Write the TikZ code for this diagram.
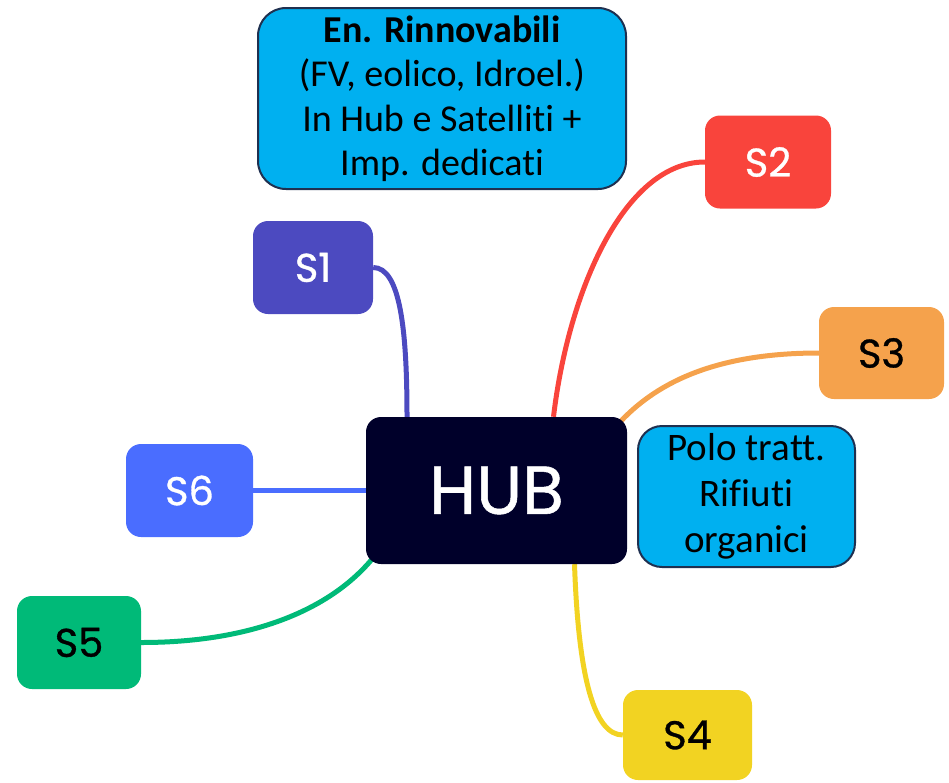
\documentclass[tikz,border=0pt]{standalone}
\usepackage{fontspec}
\setmainfont{Carlito}[Ligatures={NoCommon,NoContextual}]
\newfontfamily\popfont{Poppins}[FakeBold=0.8]
\usetikzlibrary{backgrounds}
\definecolor{renblue}{HTML}{00B0F0}
\definecolor{navyb}{HTML}{1F3050}
\definecolor{hubc}{HTML}{00002A}
\definecolor{cone}{HTML}{4C4AC0}
\definecolor{ctwo}{HTML}{F9443C}
\definecolor{cthree}{HTML}{F5A24C}
\definecolor{cfour}{HTML}{F2D322}
\definecolor{cfive}{HTML}{00BA78}
\definecolor{csix}{HTML}{4A6DFF}
\begin{document}
\begin{tikzpicture}[x=1pt,y=-1pt,
  info/.style={fill=renblue, draw=navyb, line width=2pt, rounded corners=28pt, align=center, inner sep=0pt, font=\fontsize{38}{44.5}\selectfont},
  sat/.style={rounded corners=15pt, inner sep=0pt, font=\popfont\fontsize{40}{48}\selectfont},
  link/.style={line width=5pt}]
\useasboundingbox (0,0) rectangle (949,782);
\node[info, minimum width=368pt, minimum height=181pt] (ren) at (442,98.5)
  {\textbf{En. Rinnovabili}\\(FV, eolico, Idroel.)\\In Hub e Satelliti +\\Imp. dedicati};
\node[info, rounded corners=24pt, minimum width=217pt, minimum height=141pt, font=\fontsize{39}{46}\selectfont] (polo) at (746.5,496.5)
  {Polo tratt.\\Rifiuti\\organici};
\node[sat, fill=hubc, text=white, minimum width=261pt, minimum height=147pt, font=\popfont\fontsize{68}{74}\selectfont] (hub) at (496.5,490.5) {HUB};
\node[sat, fill=cone, text=white, minimum width=120pt, minimum height=93pt] (s1) at (313,267.5) {S1};
\node[sat, fill=ctwo, text=white, minimum width=126pt, minimum height=93pt] (s2) at (768,162) {S2};
\node[sat, fill=cthree, text=black, minimum width=125pt, minimum height=92pt] (s3) at (881.5,353) {S3};
\node[sat, fill=cfour, text=black, minimum width=129pt, minimum height=90pt] (s4) at (687.5,735) {S4};
\node[sat, fill=cfive, text=black, minimum width=124pt, minimum height=93pt] (s5) at (79,642.5) {S5};
\node[sat, fill=csix, text=white, minimum width=127pt, minimum height=93pt] (s6) at (189.5,490.5) {S6};
\begin{scope}[on background layer]
\draw[link, cone] (s1.east) .. controls +(27,0) and +(0,-87) .. ([xshift=-89.5pt]hub.north);
\draw[link, ctwo] ([xshift=57pt]hub.north) .. controls +(15,-127) and +(-80,0) .. (s2.west);
\draw[link, cthree] ([xshift=-6pt,yshift=-4pt]hub.north east) .. controls +(38,-40) and +(-100,0) .. (s3.west);
\draw[link, cfour] ([xshift=78pt]hub.south) .. controls +(4,116) and +(-28,0) .. (s4.west);
\draw[link, cfive] ([xshift=7pt,yshift=6pt]hub.south west) .. controls +(-43,52) and +(110,0) .. (s5.east);
\draw[link, csix] (s6.east) -- (hub.west);
\end{scope}
\end{tikzpicture}
\end{document}
